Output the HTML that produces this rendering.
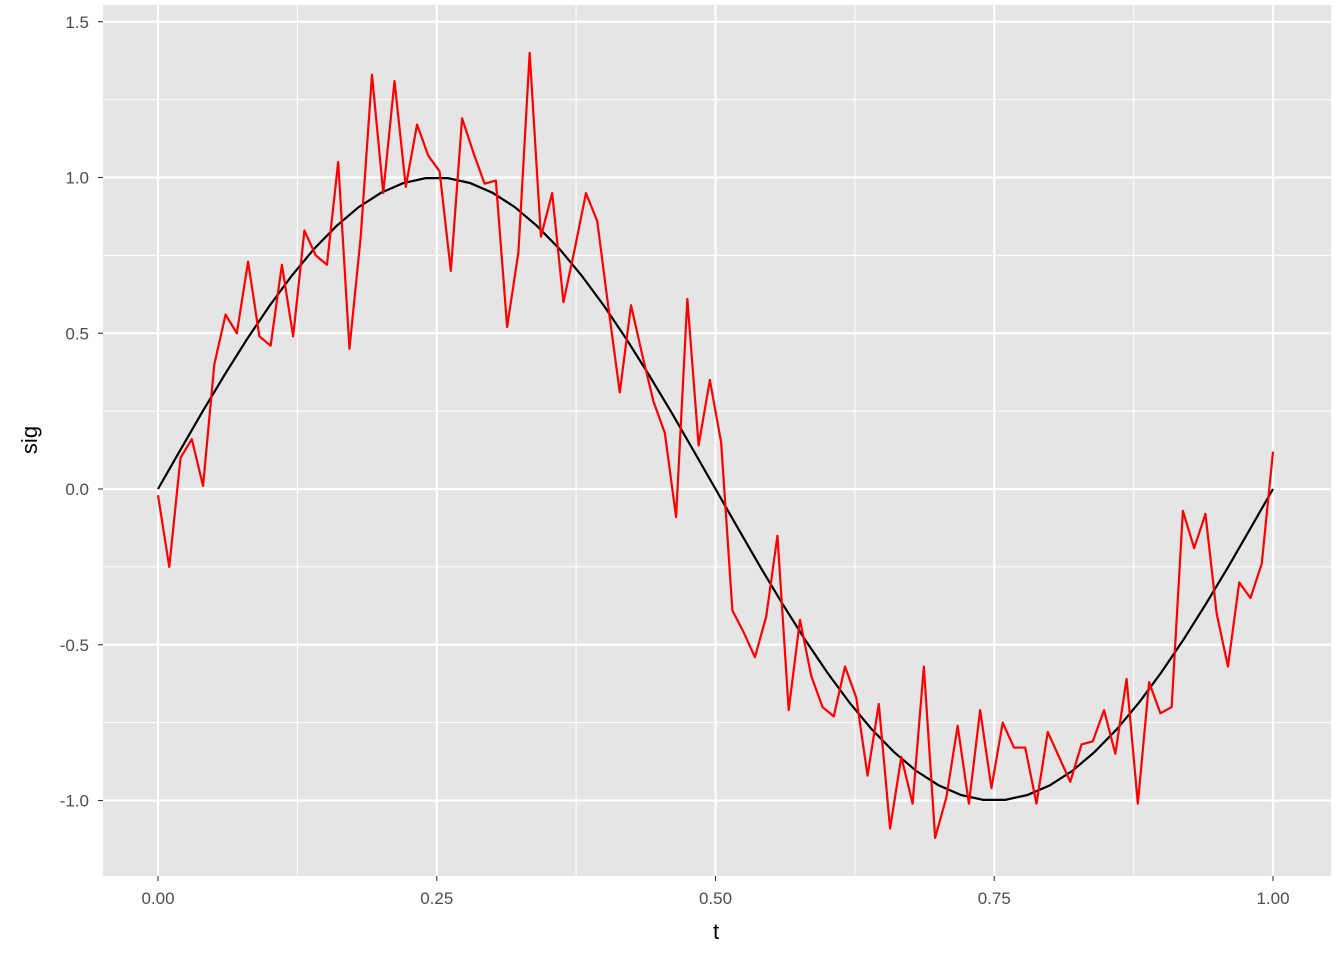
<!DOCTYPE html>
<html><head><meta charset="utf-8"><style>
html,body{margin:0;padding:0;background:#fff;}
svg{display:block;font-family:"Liberation Sans",Arial,sans-serif;}
</style></head><body>
<svg id="chart" width="1344" height="960"></svg>
<script>
const tickXVals=[0,0.25,0.5,0.75,1];
const tickXLabels=["0.00","0.25","0.50","0.75","1.00"];
const tickYVals=[-1,-0.5,0,0.5,1,1.5];
const tickYLabels=["-1.0","-0.5","0.0","0.5","1.0","1.5"];
const noisySig=[-0.02,-0.25,0.10,0.16,0.01,0.40,0.56,0.50,0.73,0.49,0.46,0.72,0.49,0.83,0.75,0.72,1.05,0.45,0.81,1.33,0.95,1.31,0.97,1.17,1.07,1.02,0.70,1.19,1.08,0.98,0.99,0.52,0.76,1.40,0.81,0.95,0.60,0.77,0.95,0.86,0.58,0.31,0.59,0.43,0.28,0.18,-0.09,0.61,0.14,0.35,0.15,-0.39,-0.46,-0.54,-0.41,-0.15,-0.71,-0.42,-0.60,-0.70,-0.73,-0.57,-0.67,-0.92,-0.69,-1.09,-0.86,-1.01,-0.57,-1.12,-0.99,-0.76,-1.01,-0.71,-0.96,-0.75,-0.83,-0.83,-1.01,-0.78,-0.86,-0.94,-0.82,-0.81,-0.71,-0.85,-0.61,-1.01,-0.62,-0.72,-0.70,-0.07,-0.19,-0.08,-0.40,-0.57,-0.30,-0.35,-0.24,0.12];
const cleanSig=[0,0.125,0.249,0.368,0.482,0.588,0.685,0.771,0.844,0.905,0.951,0.982,0.998,0.998,0.982,0.951,0.905,0.844,0.771,0.685,0.588,0.482,0.368,0.249,0.125,0,-0.125,-0.249,-0.368,-0.482,-0.588,-0.685,-0.771,-0.844,-0.905,-0.951,-0.982,-0.998,-0.998,-0.982,-0.951,-0.905,-0.844,-0.771,-0.685,-0.588,-0.482,-0.368,-0.249,-0.125,0];

const NS="http://www.w3.org/2000/svg";
const svg=document.getElementById('chart');
const L=103,R=1331,T=5,B=876;
const xs=t=>158+t*1115;
const ys=v=>489-v*311.5;
function mk(tag,attrs,parent){const e=document.createElementNS(NS,tag);for(const k in attrs)e.setAttribute(k,attrs[k]);(parent||svg).appendChild(e);return e;}

const panel=mk('rect',{x:L,y:T,width:R-L,height:B-T,fill:'#e5e5e5'});



const grid=mk('g',{});


for(let i=0;i<tickXVals.length-1;i++){const m=(tickXVals[i]+tickXVals[i+1])/2;mk('line',{x1:xs(m),x2:xs(m),y1:T,y2:B,stroke:'#fff','stroke-width':1.1},grid);}
for(let i=0;i<tickYVals.length-1;i++){const m=(tickYVals[i]+tickYVals[i+1])/2;mk('line',{x1:L,x2:R,y1:ys(m),y2:ys(m),stroke:'#fff','stroke-width':1.1},grid);}
tickXVals.forEach(v=>mk('line',{x1:xs(v),x2:xs(v),y1:T,y2:B,stroke:'#fff','stroke-width':2.2},grid));
tickYVals.forEach(v=>mk('line',{x1:L,x2:R,y1:ys(v),y2:ys(v),stroke:'#fff','stroke-width':2.2},grid));

const cl=mk('polyline',{fill:'none',stroke:'#000','stroke-width':2.2,points:cleanSig.map((v,i)=>xs(i/(cleanSig.length-1))+','+ys(v)).join(' ')});


const nl=mk('polyline',{fill:'none',stroke:'#ff0000','stroke-width':2.2,'stroke-linejoin':'round',points:noisySig.map((v,i)=>xs(i/(noisySig.length-1))+','+ys(v)).join(' ')});



tickXVals.forEach((v,i)=>{
  mk('line',{x1:xs(v),x2:xs(v),y1:B,y2:B+5,stroke:'#333','stroke-width':1.1});
  const t=mk('text',{x:xs(v),y:904,'text-anchor':'middle','font-size':17,fill:'#4d4d4d'});
  t.textContent=tickXLabels[i];
  
  
});
tickYVals.forEach((v,i)=>{
  mk('line',{x1:L-5,x2:L,y1:ys(v),y2:ys(v),stroke:'#333','stroke-width':1.1});
  const t=mk('text',{x:89,y:ys(v)+6,'text-anchor':'end','font-size':17,fill:'#4d4d4d'});
  t.textContent=tickYLabels[i];
  
  
});
const xt=mk('text',{x:716,y:939,'text-anchor':'middle','font-size':22,fill:'#000'});
xt.textContent='t';


const yt=mk('text',{x:0,y:0,'text-anchor':'middle','font-size':22,fill:'#000',transform:'translate(37,440) rotate(-90)'});
yt.textContent='sig';


</script>
</body></html>
